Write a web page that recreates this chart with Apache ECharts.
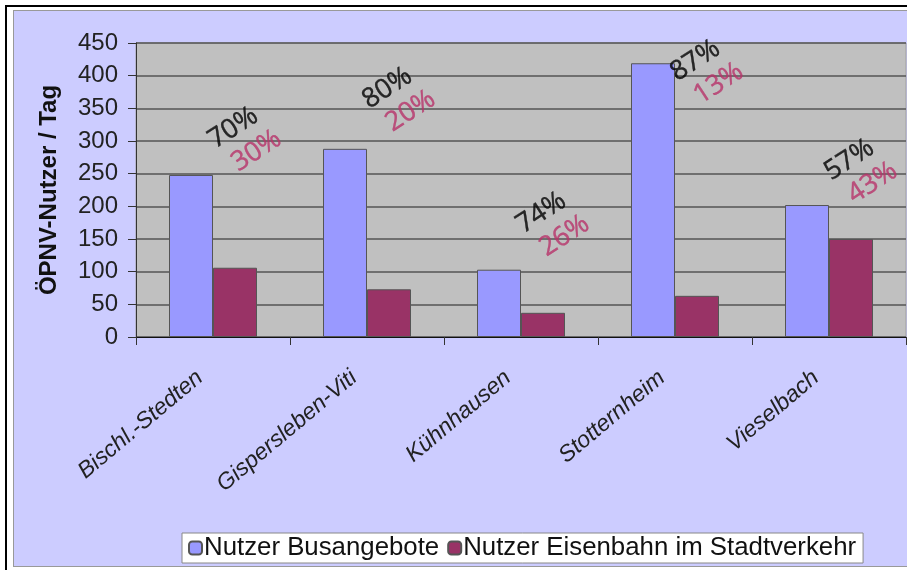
<!DOCTYPE html>
<html>
<head>
<meta charset="utf-8">
<script src="https://cdn.jsdelivr.net/npm/echarts@6/dist/echarts.min.js"></script>
<style>
    body { margin: 0; background: #fff; }
    #frame {
        position: absolute; left: 5px; top: 5px; width: 902px; height: 565px;
        border-left: 2px solid #000; border-top: 2px solid #000;
    }
    #myChart {
        position: absolute; left: 13px; top: 10px; width: 894px; height: 557px;
        box-sizing: border-box; border: 1px solid #999; border-right: none; background: #ccccff;
    }
</style>
</head>
<body>
<div id="frame"></div>
<div id="myChart"></div>
<script>
// Ortsteile und Nutzerzahlen
var categories = ['Bischl.-Stedten', 'Gispersleben-Viti', 'Kühnhausen', 'Stotternheim', 'Vieselbach'];
var busData = [248, 288, 103, 419, 202];
var bahnData = [106, 73, 37, 63, 150];
var yTicks = [0, 50, 100, 150, 200, 250, 300, 350, 400, 450];
// Höhe der Prozent-Beschriftungen (Wertachse)
var labelAnchor = [320, 381, 190, 423, 271];

var seriesNames = ['Nutzer Busangebote', 'Nutzer Eisenbahn im Stadtverkehr'];

var busShare = [];
var bahnShare = [];
for (var i = 0; i < categories.length; i++) {
    var sum = busData[i] + bahnData[i];
    busShare.push(Math.round(busData[i] / sum * 100) + '%');
    bahnShare.push(Math.round(bahnData[i] / sum * 100) + '%');
}

var myChart = echarts.init(document.getElementById("myChart"));
var option = {
    animation: false,
    grid: {
        left: 122,
        top: 32,
        width: 770,
        height: 294,
        show: true,
        backgroundColor: '#c0c0c0',
        borderColor: '#a0a0a0',
        borderWidth: 1
    },
    legend: {
        left: 168,
        bottom: 3,
        backgroundColor: '#fff',
        borderColor: '#888',
        borderWidth: 1,
        padding: [2, 7, 2, 6],
        itemGap: 8,
        itemWidth: 13,
        itemHeight: 13,
        textStyle: {
            fontFamily: 'Liberation Sans',
            fontSize: 25.8,
            color: '#111',
            padding: [0, 0, 0, -3]
        },
        data: seriesNames
    },
    xAxis: {
        type: 'category',
        data: categories,
        axisLine: {lineStyle: {color: '#111', width: 1}},
        axisTick: {show: true, length: 8, lineStyle: {color: '#333'}},
        axisLabel: {
            rotate: 40,
            interval: 0,
            margin: 27,
            padding: [0, 17, 0, 0],
            fontFamily: 'Liberation Sans',
            fontStyle: 'italic',
            fontSize: 23,
            color: '#222'
        }
    },
    yAxis: {
        type: 'value',
        min: yTicks[0],
        max: yTicks[yTicks.length - 1],
        interval: 50,
        name: 'ÖPNV-Nutzer / Tag',
        nameLocation: 'middle',
        nameRotate: 90,
        nameGap: 75,
        nameTextStyle: {
            fontFamily: 'Liberation Sans',
            fontWeight: 'bold',
            fontSize: 24,
            color: '#111'
        },
        axisLine: {show: true, lineStyle: {color: '#333'}},
        axisTick: {show: true, length: 8, lineStyle: {color: '#333'}},
        axisLabel: {
            margin: 18,
            fontFamily: 'Liberation Sans',
            fontSize: 24,
            color: '#222'
        },
        splitLine: {lineStyle: {color: '#555', width: 1.5}}
    },
    series: [
        {
            name: seriesNames[0],
            type: 'bar',
            data: busData,
            barWidth: 44,
            barGap: '0%',
            itemStyle: {color: '#9999ff', borderColor: '#555', borderWidth: 1}
        },
        {
            name: seriesNames[1],
            type: 'bar',
            data: bahnData,
            barWidth: 44,
            itemStyle: {color: '#993366', borderColor: '#555', borderWidth: 1}
        },
        {
            type: 'scatter',
            data: labelAnchor,
            symbolSize: 0,
            silent: true,
            label: {
                show: true,
                position: 'inside',
                rotate: 33,
                offset: [17, 11],
                fontFamily: 'Open Sans',
                fontSize: 27,
                color: '#000',
                textBorderColor: '#000',
                textBorderWidth: 0.4,
                formatter: function (p) { return busShare[p.dataIndex]; }
            }
        },
        {
            type: 'scatter',
            data: labelAnchor,
            symbolSize: 0,
            silent: true,
            label: {
                show: true,
                position: 'inside',
                rotate: 33,
                offset: [24, 43],
                fontFamily: 'Open Sans',
                fontSize: 27,
                color: '#b8336a',
                textBorderColor: '#b8336a',
                textBorderWidth: 0.4,
                formatter: function (p) { return bahnShare[p.dataIndex]; }
            }
        }
    ]
};
myChart.setOption(option);
</script>
</body>
</html>
